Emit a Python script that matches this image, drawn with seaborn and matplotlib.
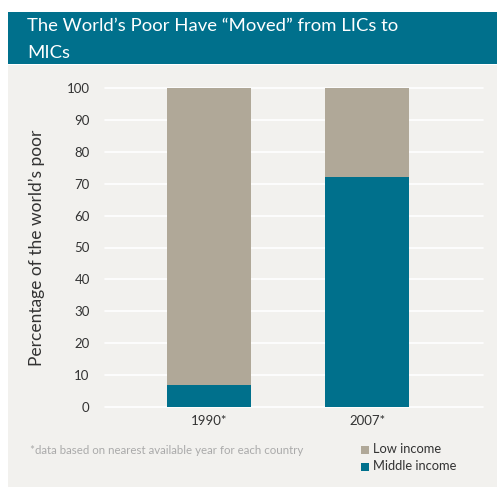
import matplotlib
matplotlib.use("Agg")
import matplotlib.pyplot as plt
import matplotlib.patches as mpatches
import seaborn as sns
import pandas as pd
import numpy as np

years = ["1990*", "2007*"]
middle_income = [7, 72]
low_income = [93, 28]
yticks = [0, 10, 20, 30, 40, 50, 60, 70, 80, 90, 100]

TEAL = "#00708c"
TAUPE = "#b0a898"
BG = "#f2f1ee"

sns.set_theme(style="white")
plt.rcParams['font.family'] = ['Lato', 'DejaVu Sans']

df = pd.DataFrame({"year": years, "middle": middle_income, "low": low_income})
df["total"] = df["middle"] + df["low"]

fig = plt.figure(figsize=(4.97, 4.87), dpi=100)
fig.patch.set_facecolor("white")

# gray panel and title banner
fig.patches.append(mpatches.Rectangle((8/497, 0), 1, (487-65)/487, transform=fig.transFigure,
                                      facecolor=BG, edgecolor="none", zorder=-5))
fig.patches.append(mpatches.Rectangle((8/497, (487-64)/487), 1, 52/487, transform=fig.transFigure,
                                      facecolor=TEAL, edgecolor="none", zorder=-5))
fig.text(27/497, (487-26)/487, "The World\u2019s Poor Have \u201cMoved\u201d from LICs to",
         color="white", fontsize=13.3, va="center", ha="left")
fig.text(27/497, (487-53)/487, "MICs", color="white", fontsize=13.3, va="center", ha="left")

ax = fig.add_axes([105/497, (487-407)/487, 378/497, 319/487])
ax.set_zorder(2)
ax.patch.set_alpha(0)

sns.barplot(data=df, x="year", y="total", color=TAUPE, width=0.53, ax=ax,
            saturation=1, zorder=3, edgecolor="none")
sns.barplot(data=df, x="year", y="middle", color=TEAL, width=0.53, ax=ax,
            saturation=1, zorder=4, edgecolor="none")

ax.set_xlim(-0.656, 1.729)
ax.set_ylim(0, 100)
ax.set_yticks(yticks)
for t in yticks:
    ax.axhline(t, color="white", lw=1.2, zorder=1, clip_on=False)
for s in ax.spines.values():
    s.set_visible(False)
ax.tick_params(axis="both", length=0, colors="#333333", labelsize=9.5)
ax.tick_params(axis="y", pad=11)
ax.tick_params(axis="x", pad=6)
ax.set_xlabel("")
ax.set_ylabel("Percentage of the world\u2019s poor", fontsize=12.5, color="#333333", labelpad=10)
ax.yaxis.set_label_coords(-(105-45)/378, 0.5)

fig.text(30/497, (487-451)/487, "*data based on nearest available year for each country",
         color="#aaaaaa", fontsize=8.3, va="center", ha="left")

fig.patches.append(mpatches.Rectangle((361/497, (487-454)/487), 8/497, 8/487, transform=fig.transFigure,
                                      facecolor=TAUPE, edgecolor="none"))
fig.patches.append(mpatches.Rectangle((361/497, (487-471)/487), 8/497, 8/487, transform=fig.transFigure,
                                      facecolor=TEAL, edgecolor="none"))
fig.text(373/497, (487-449)/487, "Low income", color="#333333", fontsize=9.3, va="center")
fig.text(373/497, (487-466)/487, "Middle income", color="#333333", fontsize=9.3, va="center")

fig.savefig("out.png", dpi=100, facecolor=fig.get_facecolor())
